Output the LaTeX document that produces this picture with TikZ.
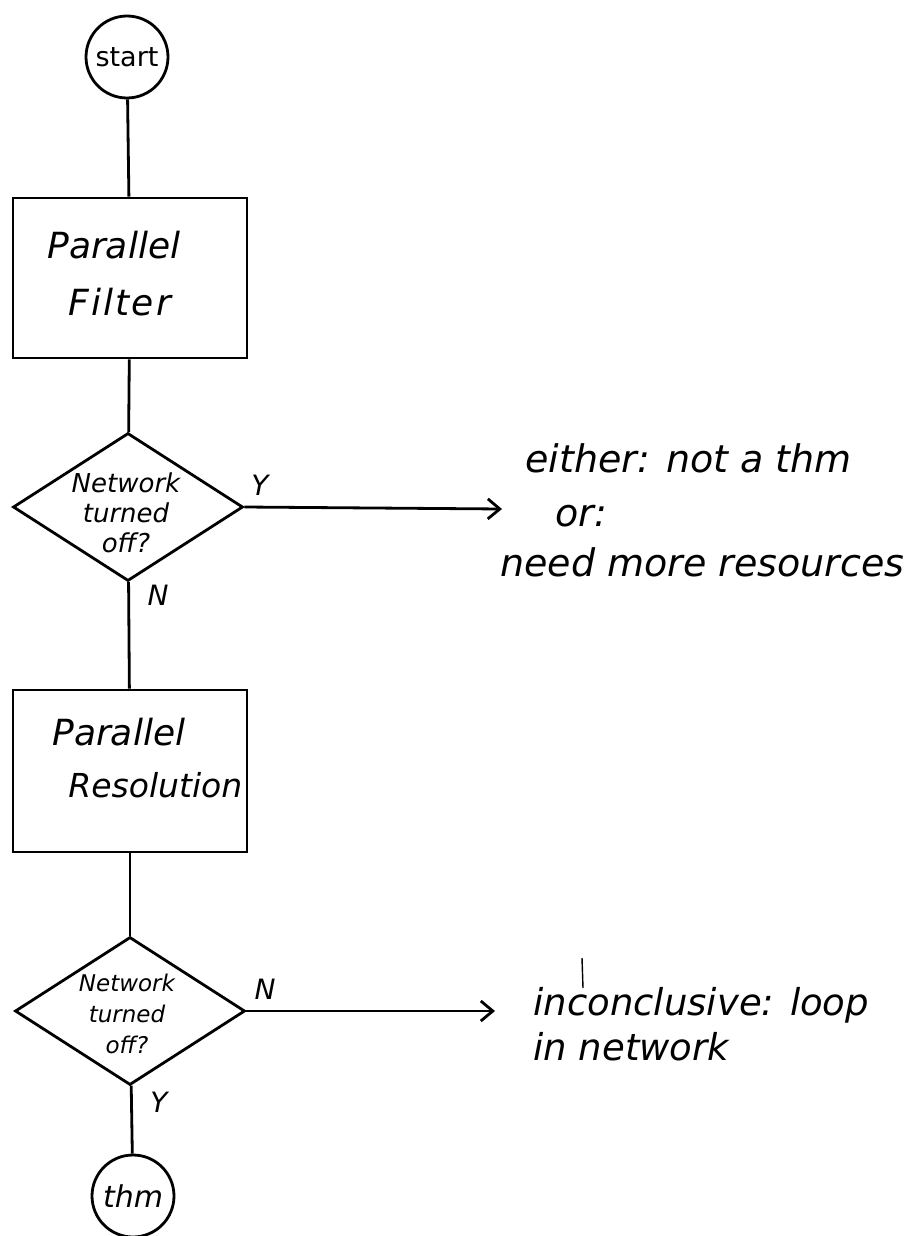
\documentclass[tikz,border=0pt]{standalone}
\usepackage{fontspec}
\setmainfont{DejaVu Sans}
\usetikzlibrary{shapes.geometric,arrows.meta}
\begin{document}
\begin{tikzpicture}[x=0.5pt,y=-0.5pt,
  ln/.style={line width=1.4pt},
  term/.style={circle,draw,line width=1.4pt,minimum size=41pt,inner sep=0pt},
  procbox/.style={rectangle,draw,line width=1.4pt,minimum width=117pt,inner sep=0pt},
  decision/.style={diamond,draw,line width=1.4pt,minimum width=115pt,minimum height=74pt,inner sep=0pt},
  hand/.style={font=\itshape\fontsize{18}{20}\selectfont,inner sep=0pt,anchor=base west},
  dtext/.style={align=center,inner sep=0pt},
  yn/.style={font=\itshape\fontsize{14}{16}\selectfont,inner sep=0pt},
  outtext/.style={font=\itshape\fontsize{19}{22}\selectfont,inner sep=0pt,anchor=base west},
  arr/.style={line width=1.4pt,-{Straight Barb[length=6pt,width=10pt,line width=1.4pt]}}]
\useasboundingbox (0,0) rectangle (924,1236);

% terminals
\node[term,font=\fontsize{13.5}{15}\selectfont] (start) at (127,57) {start};
\node[term,font=\itshape\fontsize{15}{17}\selectfont] (thm) at (133,1196) {thm};

% process boxes
\node[procbox,minimum height=80pt] (filter) at (130,278) {};
\node[hand] (filterA) at (47,258) {Parallel};
\node[hand,font=\itshape\fontsize{18}{20}\selectfont\addfontfeatures{LetterSpace=6}] (filterB) at (68,315) {Filter};
\node[procbox,minimum height=81pt] (resol) at (130,771) {};
\node[hand] (resolA) at (52,745) {Parallel};
\node[hand,font=\itshape\fontsize{16.5}{18}\selectfont] (resolB) at (68,797) {Resolution};

% decisions
\node[decision] (d1) at (128,507) {};
\node[dtext,font=\itshape\fontsize{13}{15}\selectfont] (d1t) at (126,513) {Network\\turned\\off?};
\node[decision] (d2) at (130,1011) {};
\node[dtext,font=\itshape\fontsize{11.5}{15.7}\selectfont] (d2t) at (127,1014) {Network\\turned\\off?};

% branch labels
\node[yn] (y1) at (260,485) {Y};
\node[yn] (n1) at (158,595) {N};
\node[yn] (n2) at (265,989) {N};
\node[yn] (y2) at (159,1102) {Y};

% outcomes
\coordinate (a1) at (502,509);
\coordinate (a2) at (495,1011);
\node[outtext] (o1) at (525,472) {either: not a thm};
\node[outtext] (o2) at (555,526) {or:};
\node[outtext] (o3) at (500,576) {need more resources};
\node[outtext,font=\itshape\fontsize{18.5}{22}\selectfont] (o4) at (533,1015) {inconclusive: loop};
\node[outtext,font=\itshape\fontsize{18.5}{22}\selectfont] (o5) at (533,1060) {in network};
\coordinate (tk1) at (582,958);
\coordinate (tk2) at (583,988);

% connectors
\draw[ln] (start) -- (filter);
\draw[ln] (filter) -- (d1);
\draw[ln] (d1) -- (resol);
\draw[ln] (resol) -- (d2);
\draw[ln] (d2) -- (thm);
\draw[arr] (d1.east) -- (a1);
\draw[arr] (d2.east) -- (a2);
\draw[line width=0.7pt] (tk1) -- (tk2);
\end{tikzpicture}
\end{document}
